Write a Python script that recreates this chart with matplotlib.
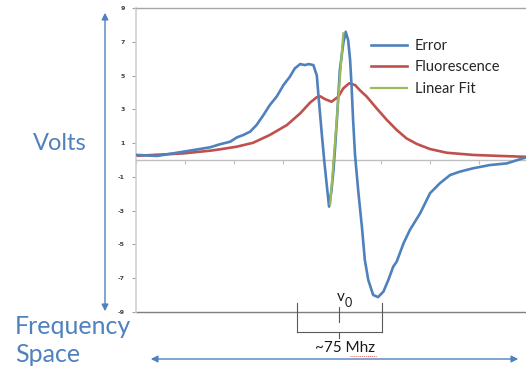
import matplotlib
matplotlib.use("Agg")
import matplotlib.pyplot as plt
from matplotlib.patches import FancyArrowPatch
from matplotlib.lines import Line2D

# ---- data (x in arbitrary frequency units, y in volts) ----
error_x = [0.02, 0.43, 0.96, 1.51, 1.71, 1.92, 2.06, 2.19, 2.33, 2.46, 2.60, 2.73, 2.87,
           3.01, 3.14, 3.24, 3.35, 3.45, 3.52, 3.62, 3.69, 3.73, 3.79, 3.84, 3.89, 3.94,
           3.99, 4.03, 4.06, 4.10, 4.16, 4.23, 4.28, 4.33, 4.37, 4.40, 4.43, 4.47, 4.54,
           4.61, 4.67, 4.74, 4.84, 4.94, 5.05, 5.15, 5.25, 5.32, 5.46, 5.59, 5.80, 6.00,
           6.20, 6.41, 6.61, 6.88, 7.22, 7.57, 7.84, 7.96]
error_y = [0.30, 0.24, 0.49, 0.75, 0.93, 1.08, 1.34, 1.48, 1.68, 2.07, 2.66, 3.25, 3.75,
           4.44, 4.93, 5.42, 5.68, 5.62, 5.68, 5.62, 5.00, 3.60, 1.60, 0.00, -1.40, -2.76,
           -1.78, -0.60, 0.60, 2.37, 5.33, 6.90, 7.59, 7.10, 5.90, 4.34, 2.40, 0.30, -1.97,
           -3.95, -5.92, -7.10, -7.99, -8.12, -7.79, -7.10, -6.31, -6.02, -4.93, -4.14, -3.15, -1.97,
           -1.38, -0.89, -0.69, -0.49, -0.30, -0.20, 0.05, 0.15]

fluor_x = [0.02, 0.96, 1.51, 1.71, 2.06, 2.39, 2.73, 3.08, 3.35, 3.55, 3.69, 3.76, 3.86,
           3.99, 4.13, 4.23, 4.35, 4.47, 4.58, 4.71, 4.91, 5.12, 5.32, 5.52, 5.73, 6.00,
           6.34, 6.88, 7.43, 7.84, 7.96]
fluor_y = [0.25, 0.39, 0.55, 0.63, 0.79, 1.02, 1.48, 2.07, 2.76, 3.39, 3.72, 3.77, 3.60,
           3.45, 3.75, 4.24, 4.54, 4.44, 4.10, 3.75, 3.06, 2.37, 1.78, 1.28, 0.95, 0.65,
           0.43, 0.30, 0.24, 0.20, 0.19]

fit_x = [3.965, 4.231]
fit_y = [-2.6, 7.5]

series_names = ["Error", "Fluorescence", "Linear Fit"]
series_colors = ["#4f81bd", "#c0504d", "#9bbb59"]
ytick_values = [-9, -7, -5, -3, -1, 1, 3, 5, 7, 9]
xtick_values = [0, 1, 2, 3, 4, 5, 6, 7]

W, H = 526, 370
fig = plt.figure(figsize=(W / 100, H / 100), dpi=100)
fig.patch.set_facecolor("white")

def fx(px):
    return px / W

def fy(py):
    return 1 - py / H

ax_left, ax_right, ax_top, ax_bot = 136, 526, 8, 312
ax = fig.add_axes([fx(ax_left), fy(ax_bot), (ax_right - ax_left) / W, (ax_bot - ax_top) / H])
ax.set_xlim(0, (ax_right - ax_left) / 49.0)
ax.set_ylim(-9, 9)

ax.plot(error_x, error_y, color=series_colors[0], lw=1.9, label=series_names[0], zorder=3,
        solid_joinstyle="round")
ax.plot(fluor_x, fluor_y, color=series_colors[1], lw=1.9, label=series_names[1], zorder=2,
        solid_joinstyle="round")
ax.plot(fit_x, fit_y, color=series_colors[2], lw=1.6, label=series_names[2], zorder=4)

# spines
ax.spines["bottom"].set_position(("data", 0))
ax.spines["bottom"].set_color("#bfbfbf")
ax.spines["bottom"].set_linewidth(1.0)
ax.spines["left"].set_color("#d0d0d0")
ax.spines["left"].set_linewidth(1.2)
ax.spines["top"].set_color("#a6a6a6")
ax.spines["top"].set_linewidth(1.0)
ax.spines["right"].set_visible(False)
ax.axhline(-9, color="#7f7f7f", lw=1.0, clip_on=False, zorder=1)

ax.set_xticks(xtick_values)
ax.set_xticklabels([])
ax.tick_params(axis="x", direction="out", length=3, color="#bfbfbf", width=0.8)
ax.set_yticks(ytick_values)
ax.set_yticklabels([str(v) for v in ytick_values], fontsize=4.5, fontweight="bold",
                   color="#404040", family="DejaVu Sans")
ax.tick_params(axis="y", direction="out", length=3, color="#a0a0a0", width=0.8, pad=5)

leg = ax.legend(loc="upper left",
                bbox_to_anchor=((365 - ax_left) / (ax_right - ax_left),
                                (ax_bot - 33) / (ax_bot - ax_top)),
                frameon=False, prop={"family": "Lato", "size": 10.5},
                handlelength=2.5, handletextpad=0.5, labelspacing=0.52, borderaxespad=0)
for t in leg.get_texts():
    t.set_color("#262626")

blue = "#4f81bd"

# vertical arrow (Volts)
fig.add_artist(FancyArrowPatch((fx(105), fy(314)), (fx(105), fy(10)),
                               transform=fig.transFigure,
                               arrowstyle="<|-|>,head_length=4,head_width=2",
                               color=blue, lw=1.0, mutation_scale=1))
# horizontal arrow (Frequency)
fig.add_artist(FancyArrowPatch((fx(148), fy(359)), (fx(521), fy(359)),
                               transform=fig.transFigure,
                               arrowstyle="<|-|>,head_length=4,head_width=2",
                               color=blue, lw=1.0, mutation_scale=1))

fig.text(fx(60), fy(143), "Volts", color=blue, fontsize=17, family="Lato",
         ha="center", va="center")
fig.text(fx(15), fy(327), "Frequency", color=blue, fontsize=18, family="Lato",
         ha="left", va="center")
fig.text(fx(15), fy(355), "Space", color=blue, fontsize=18, family="Lato",
         ha="left", va="center")

# bracket
gray = "#595959"
for seg in [((297, 303), (297, 332)), ((382, 303), (382, 332)), ((297, 332), (382, 332)),
            ((339, 332), (339, 338)), ((339, 307), (339, 322))]:
    (x0, y0), (x1, y1) = seg
    fig.add_artist(Line2D([fx(x0), fx(x1)], [fy(y0), fy(y1)], transform=fig.transFigure,
                          color=gray, lw=0.8))
fig.text(fx(341), fy(297), "v", color="#1a1a1a", fontsize=11, family="Lato",
         ha="center", va="center")
fig.text(fx(348.5), fy(303), "0", color="#1a1a1a", fontsize=9, family="Lato",
         ha="center", va="center")
fig.text(fx(345), fy(348), "~75 Mhz", color="#1a1a1a", fontsize=11, family="Lato",
         ha="center", va="center")
fig.add_artist(Line2D([fx(350), fx(377)], [fy(355.5), fy(355.5)], transform=fig.transFigure,
                      color="#e06060", lw=0.7, ls=(0, (1, 1))))

fig.savefig("out.png", dpi=100, facecolor="white")
